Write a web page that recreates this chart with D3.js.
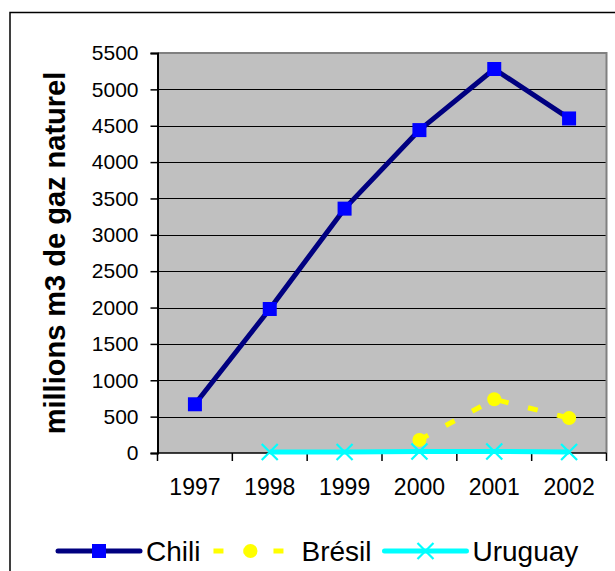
<!DOCTYPE html>
<html><head><meta charset="utf-8">
<script src="https://cdn.jsdelivr.net/npm/d3@7/dist/d3.min.js"></script>
<style>body{margin:0;background:#fff}svg{display:block;font-family:Arial,"Liberation Sans",sans-serif}</style>
</head><body><svg id="c" width="615" height="571"></svg>
<script>
const years = ["1997","1998","1999","2000","2001","2002"];
const chili = [670, 1980, 3360, 4440, 5280, 4600];
const bresil = [null, null, null, 180, 740, 480];
const uruguay = [null, 15, 15, 20, 20, 15];
const yTicks = [0,500,1000,1500,2000,2500,3000,3500,4000,4500,5000,5500];
const yTitle = "millions m3 de gaz naturel";
const seriesNames = ["Chili","Brésil","Uruguay"];

const svg = d3.select("#c");
const M = {l:157.5, t:53, r:606.5, b:453};

svg.append("rect").attr("x",10).attr("y",12.5).attr("width",640).attr("height",600)
  .attr("fill","#fff").attr("stroke","#000").attr("stroke-width",1.5);

const x = d3.scaleBand().domain(years).range([M.l, M.r]);
const y = d3.scaleLinear().domain([0,5500]).range([M.b, M.t]);

// plot area
svg.append("rect").attr("x",M.l).attr("y",M.t).attr("width",M.r-M.l).attr("height",M.b-M.t)
  .attr("fill","#c0c0c0");
// gridlines
svg.append("g").selectAll("line").data(yTicks.slice(1)).join("line")
  .attr("x1",M.l).attr("x2",M.r).attr("y1",d=>Math.round(y(d))+0.5).attr("y2",d=>Math.round(y(d))+0.5)
  .attr("stroke","#000").attr("stroke-width",1);
// plot border top/right
svg.append("path").attr("d",`M${M.l},${M.t} H${M.r} V${M.b}`).attr("fill","none")
  .attr("stroke","#808080").attr("stroke-width",2);

// y axis
const ya = svg.append("g").attr("transform",`translate(${M.l},0)`)
  .call(d3.axisLeft(y).tickValues(yTicks).tickSize(7).tickPadding(12).tickFormat(d3.format("d")));
ya.select(".domain").attr("stroke","#000").attr("stroke-width",2);
ya.selectAll(".tick line").attr("stroke","#000").attr("stroke-width",1.5);
ya.selectAll("text").attr("font-size","21px").attr("fill","#000").attr("font-family","Arial, 'Liberation Sans', sans-serif");

// x axis
const xa = svg.append("g").attr("transform",`translate(0,${M.b})`)
  .call(d3.axisBottom(x).tickSize(0).tickPadding(0));
xa.select(".domain").remove();
xa.selectAll("text").attr("font-size","23px").attr("fill","#000").attr("dy",null).attr("y",42)
  .attr("font-family","Arial, 'Liberation Sans', sans-serif");
svg.append("line").attr("x1",M.l).attr("x2",M.r).attr("y1",M.b).attr("y2",M.b).attr("stroke","#000").attr("stroke-width",1.5);
svg.append("g").selectAll("line").data(years.concat(["end"])).join("line")
  .attr("x1",(d,i)=>M.l + i*x.bandwidth()).attr("x2",(d,i)=>M.l + i*x.bandwidth())
  .attr("y1",M.b).attr("y2",M.b+8).attr("stroke","#000").attr("stroke-width",1.5);

// y title
svg.append("text").attr("transform",`translate(65,253) rotate(-90)`).attr("text-anchor","middle")
  .attr("font-size","29px").attr("font-weight","bold").attr("fill","#000").text(yTitle);

const cx = (d,i)=>x(years[i]) + x.bandwidth()/2;
const lineGen = d3.line().defined(d=>d!==null).x((d,i)=>cx(d,i)).y(d=>y(d));

// Uruguay
svg.append("path").datum(uruguay).attr("d",lineGen).attr("fill","none").attr("stroke","#00ffff").attr("stroke-width",5);
function xMark(g, s){ return g.append("path").attr("d",`M${-s},${-s}L${s},${s}M${-s},${s}L${s},${-s}`).attr("stroke","#00ffff").attr("stroke-width",2.2).attr("fill","none"); }
uruguay.forEach((d,i)=>{ if(d!==null){ const g=svg.append("g").attr("transform",`translate(${cx(d,i)},${y(d)})`); xMark(g,8);} });

// Brésil
svg.append("path").datum(bresil).attr("d",lineGen).attr("fill","none").attr("stroke","#ffff00").attr("stroke-width",5).attr("stroke-dasharray","10,20");
svg.append("g").selectAll("circle").data(bresil.map((d,i)=>({d,i})).filter(o=>o.d!==null)).join("circle")
  .attr("cx",o=>cx(o.d,o.i)).attr("cy",o=>y(o.d)).attr("r",7).attr("fill","#ffff00");

// Chili
svg.append("path").datum(chili).attr("d",lineGen).attr("fill","none").attr("stroke","#000080").attr("stroke-width",5).attr("stroke-linejoin","round");
svg.append("g").selectAll("rect").data(chili).join("rect")
  .attr("x",(d,i)=>cx(d,i)-7).attr("y",d=>y(d)-7).attr("width",14).attr("height",14).attr("fill","#0000ff");

// legend
const leg = svg.append("g");
let lx = 58; const ly = 551;
const styles = [
  {stroke:"#000080", dash:null, marker:"sq"},
  {stroke:"#ffff00", dash:"10,20", marker:"ci"},
  {stroke:"#00ffff", dash:null, marker:"x"}
];
seriesNames.forEach((name,k)=>{
  const st = styles[k];
  const ln = leg.append("line").attr("x1",lx).attr("x2",lx+82).attr("y1",ly).attr("y2",ly)
    .attr("stroke",st.stroke).attr("stroke-width",5).attr("stroke-linecap", st.dash? "butt":"round");
  if(st.dash) ln.attr("stroke-dasharray",st.dash);
  const mx = lx+41;
  if(st.marker==="sq") leg.append("rect").attr("x",mx-7).attr("y",ly-7).attr("width",14).attr("height",14).attr("fill","#0000ff");
  if(st.marker==="ci") leg.append("circle").attr("cx",mx-4).attr("cy",ly).attr("r",7).attr("fill","#ffff00");
  if(st.marker==="x"){ const g=leg.append("g").attr("transform",`translate(${mx},${ly})`); xMark(g,8); }
  const t = leg.append("text").attr("x",lx+88).attr("y",ly+10).attr("font-size","28px").attr("fill","#000").text(name);
  lx = lx + 88 + t.node().getComputedTextLength() + 13;
});
</script></body></html>
